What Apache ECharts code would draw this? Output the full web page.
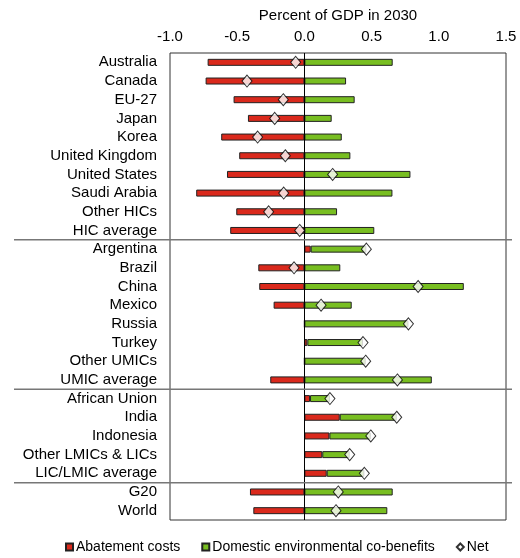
<!DOCTYPE html>
<html>
<head>
<meta charset="utf-8">
<script src="https://cdn.jsdelivr.net/npm/echarts@6/dist/echarts.min.js"></script>
<style>html,body{margin:0;padding:0;background:#fff;}#c{width:520px;height:558px;}</style>
</head>
<body>
<div id="c"></div>
<script>
var categories = ["Australia","Canada","EU-27","Japan","Korea","United Kingdom","United States","Saudi Arabia","Other HICs","HIC average",
  "Argentina","Brazil","China","Mexico","Russia","Turkey","Other UMICs","UMIC average",
  "African Union","India","Indonesia","Other LMICs & LICs","LIC/LMIC average","G20","World"];
var abatementCosts = [-0.72,-0.735,-0.527,-0.42,-0.619,-0.485,-0.576,-0.805,-0.507,-0.552,
  0.047,-0.343,-0.336,-0.229,0,0.022,0,-0.254,
  0.042,0.263,0.186,0.133,0.166,-0.405,-0.38];
var coBenefits = [0.657,0.31,0.374,0.203,0.278,0.342,0.789,0.655,0.243,0.52,
  0.414,0.267,1.186,0.352,0.774,0.414,0.456,0.948,
  0.148,0.424,0.308,0.204,0.28,0.657,0.617];
var net = [-0.065,-0.427,-0.157,-0.221,-0.348,-0.142,0.21,-0.154,-0.266,-0.035,
  0.461,-0.077,0.846,0.124,0.774,0.436,0.456,0.692,
  0.19,0.687,0.494,0.337,0.446,0.252,0.235];
var xTicks = {min:-1.0, max:1.5, interval:0.5};
var groupEnds = [9,17,22]; // index of last category in each group

var FONT = "Arial, 'Liberation Sans', sans-serif";
var chart = echarts.init(document.getElementById('c'));
var option = {
  animation:false,
  textStyle:{fontFamily:FONT},
  grid:{left:170,right:14,top:53,bottom:38,containLabel:false,outerBoundsMode:'none',
    show:true,borderColor:'#333',borderWidth:1,backgroundColor:'transparent'},
  xAxis:{type:'value',position:'top',min:xTicks.min,max:xTicks.max,interval:xTicks.interval,
    name:'Percent of GDP in 2030',nameLocation:'middle',nameGap:30,
    nameTextStyle:{fontSize:15,color:'#000',fontFamily:FONT},
    axisLine:{show:false},axisTick:{show:false},splitLine:{show:false},
    axisLabel:{fontSize:15,color:'#000',margin:9,fontFamily:FONT,formatter:function(v){return v.toFixed(1);}}},
  yAxis:{type:'category',inverse:true,data:categories,
    axisLine:{show:false},axisTick:{show:false},splitLine:{show:false},
    axisLabel:{interval:0,fontSize:15,color:'#000',margin:13,fontFamily:FONT}},
  legend:{bottom:-1,left:60,itemWidth:7,itemHeight:7,itemGap:21,
    textStyle:{fontSize:14,color:'#000',fontFamily:FONT,padding:[0,0,0,-2]},
    data:[{name:'Abatement costs',icon:'rect'},{name:'Domestic environmental co-benefits',icon:'rect'},{name:'Net',icon:'diamond'}]},
  series:[
    {name:'Abatement costs',type:'bar',stack:'total',data:abatementCosts,barWidth:7,
     itemStyle:{color:'#DA291C',borderColor:'#222',borderWidth:1},
     markLine:{silent:true,symbol:'none',label:{show:false},z:10,
       lineStyle:{color:'#000',type:'solid',width:1},data:[{xAxis:0}]}},
    {name:'Domestic environmental co-benefits',type:'bar',stack:'total',data:coBenefits,barWidth:7,
     itemStyle:{color:'#78BE21',borderColor:'#222',borderWidth:1}},
    {name:'Net',type:'scatter',data:net,symbol:'diamond',symbolSize:[10,12],z:20,
     itemStyle:{color:'#fff',borderColor:'#000',borderWidth:1}}
  ]
};
chart.setOption(option);
var lines = groupEnds.map(function(i){
  var y1 = chart.convertToPixel({yAxisIndex:0}, categories[i]);
  var y2 = chart.convertToPixel({yAxisIndex:0}, categories[i+1]);
  var y = (y1+y2)/2;
  return {type:'line',shape:{x1:14,y1:y,x2:512,y2:y},style:{stroke:'#777',lineWidth:1.5},z:30};
});
chart.setOption({graphic:lines});
</script>
</body>
</html>
